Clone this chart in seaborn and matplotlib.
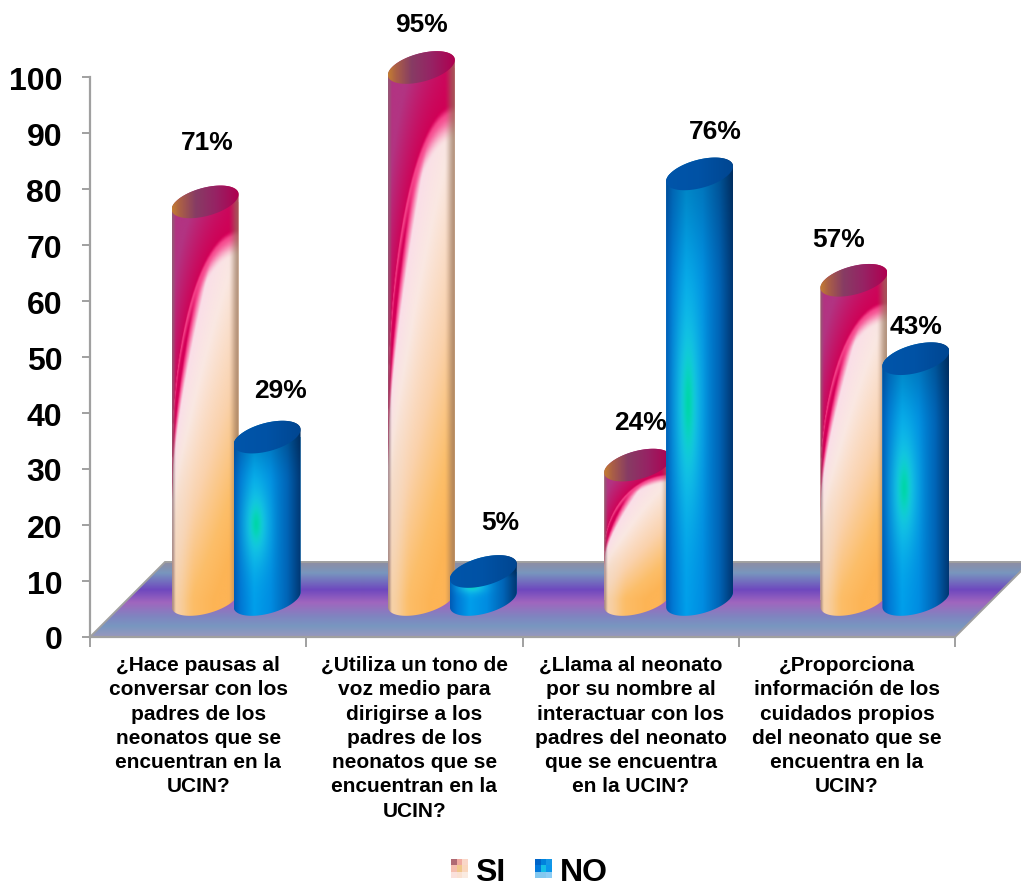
import numpy as np
import pandas as pd
import matplotlib
matplotlib.use("Agg")
import matplotlib.pyplot as plt
from matplotlib.path import Path
from matplotlib.patches import PathPatch
import seaborn as sns

preguntas = [
    "¿Hace pausas al\nconversar con los\npadres de los\nneonatos que se\nencuentran en la\nUCIN?",
    "¿Utiliza un tono de\nvoz medio para\ndirigirse a los\npadres de los\nneonatos que se\nencuentran en la\nUCIN?",
    "¿Llama al neonato\npor su nombre al\ninteractuar con los\npadres del neonato\nque se encuentra\nen la UCIN?",
    "¿Proporciona\ninformación de los\ncuidados propios\ndel neonato que se\nencuentra en la\nUCIN?",
]
si_values = [71, 95, 24, 57]
no_values = [29, 5, 76, 43]
si_labels = ["71%", "95%", "24%", "57%"]
no_labels = ["29%", "5%", "76%", "43%"]
# label offsets from the bar top, in pixels
si_offsets = [(2, 60), (0, 43), (3, 43), (-15, 41)]
no_offsets = [(13, 47), (17, 49), (16, 43), (0, 33)]

W, H = 1021, 887
LEFT, RIGHT, BOTTOM, TOP = 90, 955, 638, 78
DEPTH = 75
PXX = (RIGHT - LEFT) / 4
PXY = (BOTTOM - TOP) / 100
A_S, A_B = 7.5, 14.5   # ellipse slant and half height, px

sns.set_theme(style="white")
plt.rcParams["font.family"] = ["Liberation Sans", "DejaVu Sans"]
plt.rcParams["font.weight"] = "bold"

fig = plt.figure(figsize=(W / 100, H / 100), dpi=100, facecolor="white")


def axes_rect(dx=0, dy=0):
    return [(LEFT + dx) / W, (H - BOTTOM + dy) / H, (RIGHT - LEFT) / W, (BOTTOM - TOP) / H]


ax = fig.add_axes(axes_rect())
ax.set_xlim(-0.5, 3.5)
ax.set_ylim(0, 100)
ax.set_facecolor("none")
for s in ("top", "right"):
    ax.spines[s].set_visible(False)
for s in ("left", "bottom"):
    ax.spines[s].set_color("#a0a0a0")
    ax.spines[s].set_linewidth(1.6)
ax.set_yticks(range(0, 101, 10))
ax.tick_params(axis="y", labelsize=23, length=6, width=1.4, color="#a0a0a0", pad=14, labelcolor="black", left=True)
ax.set_xticks(range(4))
ax.set_xticklabels(preguntas, fontsize=15, fontweight="bold", linespacing=1.35, color="black")
ax.tick_params(axis="x", which="major", length=0, pad=13)
ax.set_xticks(np.arange(-0.5, 3.6, 1), minor=True)
ax.tick_params(axis="x", which="minor", length=7, width=1.4, color="#a0a0a0", bottom=True)
for t in ax.get_yticklabels():
    t.set_fontweight("bold")

# floor
fdx, fdy = DEPTH / PXX, DEPTH / PXY
floor_pts = [(-0.5, 0), (3.5, 0), (3.5 + fdx, fdy), (-0.5 + fdx, fdy), (-0.5, 0)]
floor_path = Path(floor_pts)
stops_y = np.array([0, 1, 11, 21, 35, 48, 65, 75, 76]) / 76
stops_c = np.array([
    [150, 152, 190], [150, 152, 190], [120, 150, 192], [128, 132, 192], [160, 102, 190],
    [110, 72, 190], [120, 150, 190], [140, 142, 165], [140, 142, 165]], float)
yy = np.linspace(0, 1, 200)
floor_img = np.stack([np.interp(yy, stops_y, stops_c[:, i]) for i in range(3)], axis=-1)[:, None, :] / 255
im = ax.imshow(floor_img, extent=(-0.5, 3.5 + fdx, 0, fdy), origin="lower", aspect="auto",
               zorder=1, interpolation="bilinear")
im.set_clip_path(floor_path, transform=ax.transData)
im.set_clip_box(fig.bbox)
edge = PathPatch(floor_path, fill=False, edgecolor="#a0a0a0", lw=1.4, zorder=1.5, clip_on=False)
ax.add_patch(edge)
ax.set_xlim(-0.5, 3.5)
ax.set_ylim(0, 100)

# bars, in a second axes moved half the floor depth back
ax2 = fig.add_axes(axes_rect(38, DEPTH / 2))
ax2.set_facecolor("none")
df = pd.DataFrame({
    "pregunta": preguntas * 2,
    "valor": si_values + no_values,
    "serie": ["SI"] * 4 + ["NO"] * 4,
})
sns.barplot(data=df, x="pregunta", y="valor", hue="serie", order=preguntas, hue_order=["SI", "NO"],
            palette={"SI": "#f0c8a8", "NO": "#0a86d8"}, width=0.573, gap=-0.08, ax=ax2, saturation=1)
handles, labels_leg = ax2.get_legend_handles_labels()
ax2.get_legend().remove()
ax2.set_xlim(-0.5, 3.5)
ax2.set_ylim(0, 100)
ax2.axis("off")


def smooth(a, b, x):
    t = np.clip((x - a) / (b - a), 0, 1)
    return t * t * (3 - 2 * t)


def ramp(x, pos, cols):
    cols = np.array(cols, float)
    return np.stack([np.interp(x, pos, cols[:, i]) for i in range(3)], axis=-1)


def mix(c, col, f):
    return c * (1 - f[..., None]) + np.array(col, float) * f[..., None]


def si_body(u, v):
    vb = 0.36 + 0.57 * np.sqrt(np.clip(1 - (1 - u) ** 2, 0, 1))
    t = np.clip((vb - v) / vb, 0, 1)
    te = np.clip(t * 0.9 + 0.42 * (u - 0.4), 0, 1)
    below = ramp(te, [0, 0.035, 0.11, 0.3, 0.6, 0.85, 1],
                 [[212, 0, 88], [246, 70, 140], [250, 222, 232], [250, 232, 226],
                  [250, 210, 172], [252, 190, 105], [253, 180, 85]])
    # the transition to crimson follows the true boundary
    pink = mix(below, [246, 70, 140], 1 - smooth(0.012, 0.075, t))
    below = mix(pink, [212, 0, 88], 1 - smooth(0, 0.02, t))
    below = mix(below, [242, 218, 198], 0.55 * (1 - smooth(0.05, 0.35, u)) * smooth(0.3, 0.7, t))
    a = np.clip((v - vb) / np.maximum(1.05 - vb, 0.02), 0, 1)
    m = np.clip((0.08 + 1.0 * a) * (1 - u) * 1.7, 0, 1)
    above = mix(np.broadcast_to(np.array([208, 0, 85], float), u.shape + (3,)).copy(), [178, 52, 130], m)
    c = np.where((v > vb)[..., None], above, below)
    c = mix(c, [135, 105, 110], 0.65 * (1 - smooth(0, 0.06, u)))
    c = mix(c, [150, 115, 90], 0.7 * smooth(0.84, 1, u))
    return c


def no_body(u, v):
    c = ramp(u, [0, 0.1, 0.3, 0.55, 0.8, 1],
             [[0, 92, 182], [0, 120, 212], [0, 158, 235], [0, 140, 225], [0, 100, 182], [0, 55, 115]])
    c = c * (1 - 0.18 * smooth(0.7, 1.05, v))[..., None]
    g = np.exp(-((u - 0.33) / 0.2) ** 2 - ((v - 0.46) / 0.26) ** 2)
    c = mix(c, [30, 215, 228], np.clip(g * 0.88, 0, 1))
    c = mix(c, [0, 214, 170], np.clip(g ** 7, 0, 1))
    return c


def si_top(u):
    return ramp(u, [0, 0.12, 0.35, 0.65, 1],
                [[195, 125, 50], [170, 95, 70], [135, 60, 100], [150, 35, 100], [175, 0, 80]])


def no_top(u):
    return ramp(u, [0, 0.5, 1], [[0, 85, 170], [0, 82, 165], [0, 70, 145]])


def arc(cx, cy, a, t):
    x = cx + (-a * np.cos(t)) / PXX
    y = cy + (-A_S * np.cos(t) + A_B * np.sin(t)) / PXY
    return np.column_stack([x, y])


def draw_cylinder(bar, body, top, z):
    x0, w, h = bar.get_x(), bar.get_width(), bar.get_height()
    cx = x0 + w / 2
    a = w / 2 * PXX
    up = np.linspace(0, np.pi, 60)
    low = np.linspace(np.pi, 2 * np.pi, 60)
    cyl = Path(np.vstack([arc(cx, h, a, up), arc(cx, 0, a, low), arc(cx, h, a, up[:1])]))
    cap = Path(np.vstack([arc(cx, h, a, up), arc(cx, h, a, low)]))
    trans = ax2.transData
    bar.set_zorder(z)
    bar.set_edgecolor("none")
    bar.set_clip_path(cyl, transform=trans)
    bar.set_clip_box(fig.bbox)
    margin = 20 / PXY
    nx, ny = 90, max(int((h * PXY + 40) * 1.2), 40)
    ys = np.linspace(-margin, h + margin, ny)
    uu, yy_ = np.meshgrid(np.linspace(0, 1, nx), ys)
    arr = np.clip(body(uu, yy_ / h), 0, 255) / 255
    i1 = ax2.imshow(arr, extent=(x0, x0 + w, -margin, h + margin), origin="lower", aspect="auto",
                    zorder=z + 0.1, interpolation="bilinear")
    i1.set_clip_path(cyl, transform=trans)
    i1.set_clip_box(fig.bbox)
    uu2 = np.linspace(0, 1, 90)[None, :]
    arr2 = np.clip(top(uu2), 0, 255) / 255
    i2 = ax2.imshow(arr2, extent=(x0, x0 + w, h - margin, h + margin), origin="lower", aspect="auto",
                    zorder=z + 0.2, interpolation="bilinear")
    i2.set_clip_path(cap, transform=trans)
    i2.set_clip_box(fig.bbox)


si_bars, no_bars = ax2.containers[0], ax2.containers[1]
for i in range(4):
    draw_cylinder(si_bars[i], si_body, si_top, 3 + 2 * i)
    draw_cylinder(no_bars[i], no_body, no_top, 4 + 2 * i)
ax2.set_xlim(-0.5, 3.5)
ax2.set_ylim(0, 100)

for bars, texts, offs in ((si_bars, si_labels, si_offsets), (no_bars, no_labels, no_offsets)):
    for bar, txt, (ox, oy) in zip(bars, texts, offs):
        ax2.annotate(txt, (bar.get_x() + bar.get_width() / 2, bar.get_height()),
                     xytext=(ox * 0.72, oy * 0.72), textcoords="offset points",
                     ha="center", va="center", fontsize=19, fontweight="bold",
                     color="black", zorder=50, annotation_clip=False)

leg = fig.legend(handles, labels_leg, loc="center", bbox_to_anchor=(529 / W, 1 - 873 / H), ncol=2,
                 frameon=False, handlelength=0.53, handleheight=0.53,
                 handletextpad=0.25, columnspacing=0.9, labelcolor="black",
                 prop={"family": "Liberation Sans", "weight": "bold", "size": 23})

swatches = [
    np.array([[[175, 105, 115], [240, 170, 160], [250, 215, 200]],
              [[245, 190, 175], [240, 200, 140], [250, 215, 190]],
              [[250, 225, 220], [250, 225, 210], [250, 235, 225]]]) / 255,
    np.array([[[0, 100, 200], [0, 130, 220], [20, 150, 230]],
              [[0, 120, 220], [20, 190, 230], [10, 150, 235]],
              [[130, 200, 240], [130, 200, 240], [140, 205, 245]]]) / 255,
]
fig.canvas.draw()
for patch, sw in zip(leg.get_patches(), swatches):
    bb = patch.get_window_extent().transformed(fig.transFigure.inverted())
    iax = fig.add_axes(bb.bounds)
    iax.set_zorder(10)
    iax.imshow(sw, aspect="auto", interpolation="nearest")
    iax.axis("off")

fig.savefig("out.png", dpi=100, facecolor="white")
